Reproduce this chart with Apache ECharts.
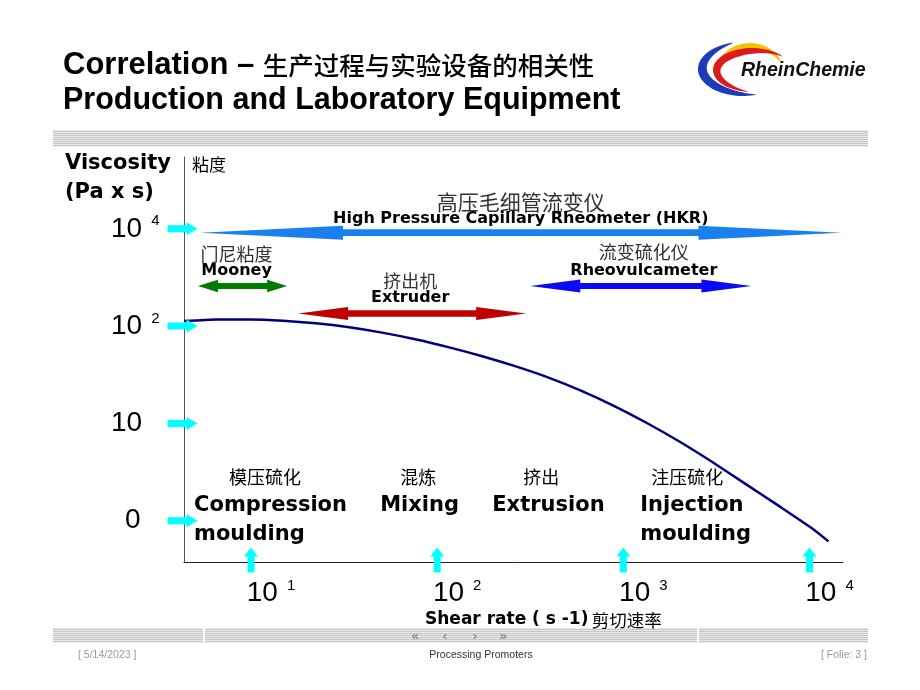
<!DOCTYPE html>
<html><head><meta charset="utf-8">
<script src="https://cdn.jsdelivr.net/npm/echarts@6.0.0/dist/echarts.min.js"></script>
<style>html,body{margin:0;padding:0;background:#fff}#c{width:920px;height:690px}</style>
</head><body><div id="c"></div>
<script>
// ---------- data (x = log10 shear rate, y = viscosity level on the schematic scale) ----------
const curveX = [0.640, 0.817, 0.995, 1.172, 1.349, 1.527, 1.704, 1.882, 2.059, 2.237, 2.414, 2.591, 2.769, 2.946, 3.124, 3.301, 3.478, 3.656, 3.833, 4.011, 4.102];
const curveY = [2.052, 2.069, 2.069, 2.056, 2.029, 1.988, 1.933, 1.865, 1.784, 1.693, 1.591, 1.476, 1.340, 1.184, 1.007, 0.814, 0.603, 0.379, 0.155, -0.075, -0.212];

const xTickValues = [1, 2, 3, 4];
const xTickBase = ['10', '10', '10', '10'];
const xTickExp = ['1', '2', '3', '4'];

const yTickValues = [0, 1, 2, 3];
const yTickBase = ['0', '10', '10', '10'];
const yTickExp = ['', '', '2', '4'];

const arrowCn = ['高压毛细管流变仪', '门尼粘度', '挤出机', '流变硫化仪'];
const arrowEn = ['High Pressure Capillary Rheometer (HKR)', 'Mooney', 'Extruder', 'Rheovulcameter'];
const arrowStart = [0.726, 0.715, 1.253, 2.50];
const arrowEnd = [4.172, 1.194, 2.478, 3.688];
const arrowLevel = [2.96, 2.412, 2.129, 2.412];

const procCn = ['模压硫化', '混炼', '挤出', '注压硫化'];
const procCnX = [1.075, 1.898, 2.559, 3.344];
const procCnLevel = [0.447, 0.447, 0.447, 0.447];
const procEn = ['Compression\nmoulding', 'Mixing', 'Extrusion', 'Injection\nmoulding'];
const procEnX = [0.694, 1.694, 2.296, 3.091];
const procEnLevel = [0.308, 0.308, 0.308, 0.308];

// ---------- styles ----------
const X_MIN = 0.64, X_MAX = 4.18, Y_MIN = -0.424, Y_MAX = 3.738;
const arrowStyle = [
  {color: '#1a80ee', head: 143, headH: 7, shaftH: 3.4, cnSize: 21, cnDy: -31, enDy: -14, dx: 0},
  {color: '#007d00', head: 20, headH: 6.3, shaftH: 3, cnSize: 18, cnDy: -32, enDy: -15, dx: -6},
  {color: '#c00000', head: 50, headH: 6.5, shaftH: 3.3, cnSize: 18, cnDy: -32, enDy: -16, dx: -2},
  {color: '#0a0af5', head: 50, headH: 6.5, shaftH: 3, cnSize: 18, cnDy: -34, enDy: -15, dx: 3}
];
const CN = '"Noto Sans CJK SC"';
const EN = '"DejaVu Sans"';
const AR = '"Liberation Sans", Arial';

// ---------- decorations ----------
function stripes(x, y, w, h) {
  const arr = [{type: 'rect', shape: {x, y, width: w, height: h}, style: {fill: '#e8e8e8'}, silent: true}];
  for (let yy = y + 1; yy < y + h; yy += 2) {
    arr.push({type: 'rect', shape: {x, y: yy, width: w, height: 1}, style: {fill: '#c6c6c6'}, silent: true});
  }
  return arr;
}
function crescent(cx, cy, rx, ry, a0, a1, tmax, color) {
  const pts = [], n = 48;
  for (let k = 0; k <= n; k++) {
    const a = (a0 + (a1 - a0) * k / n) * Math.PI / 180;
    pts.push([cx + rx * Math.cos(a), cy + ry * Math.sin(a)]);
  }
  for (let k = n; k >= 0; k--) {
    const f = k / n, a = (a0 + (a1 - a0) * f) * Math.PI / 180;
    const t = tmax * Math.pow(Math.sin(Math.PI * f), 0.8);
    pts.push([cx + (rx - t) * Math.cos(a), cy + (ry - t) * Math.sin(a)]);
  }
  return {type: 'polygon', shape: {points: pts}, style: {fill: color}, silent: true};
}

const graphics = [].concat(
  [
    {type: 'text', x: 63, y: 65, style: {text: '{a|Correlation – }{c|生产过程与实验设备的相关性}', align: 'left', verticalAlign: 'middle',
      rich: {a: {fontSize: 31, fontWeight: 'bold', fontFamily: AR, fill: '#000'}, c: {fontSize: 25.5, fontFamily: CN, fontWeight: 500, fill: '#000'}}}},
    {type: 'text', x: 63, y: 101, style: {text: 'Production and Laboratory Equipment', fontSize: 30.5, fontWeight: 'bold', fontFamily: AR, fill: '#000', align: 'left', verticalAlign: 'middle'}},
    crescent(750, 71, 33, 28, 200, 345, 6, '#f2c500'),
    crescent(752, 70, 39, 22, 95, 322, 8, '#dd1b1b'),
    crescent(743, 69, 45, 27, 72, 258, 9, '#1c3cbc'),
    {type: 'text', x: 741, y: 71, style: {text: 'RheinChemie', fontSize: 19.5, fontStyle: 'italic', fontWeight: 'bold', fontFamily: AR, fill: '#111', align: 'left', verticalAlign: 'middle'}}
  ],
  stripes(53, 130, 815, 17),
  stripes(53, 628, 815, 15),
  [
    {type: 'rect', shape: {x: 203, y: 628, width: 2, height: 15}, style: {fill: '#fff'}, silent: true},
    {type: 'rect', shape: {x: 697, y: 628, width: 2, height: 15}, style: {fill: '#fff'}, silent: true},
    {type: 'text', x: 415, y: 636, style: {text: '«', fontSize: 13, fontFamily: AR, fill: '#777', align: 'center', verticalAlign: 'middle'}},
    {type: 'text', x: 445, y: 636, style: {text: '‹', fontSize: 13, fontFamily: AR, fill: '#777', align: 'center', verticalAlign: 'middle'}},
    {type: 'text', x: 475, y: 636, style: {text: '›', fontSize: 13, fontFamily: AR, fill: '#777', align: 'center', verticalAlign: 'middle'}},
    {type: 'text', x: 503, y: 636, style: {text: '»', fontSize: 13, fontFamily: AR, fill: '#777', align: 'center', verticalAlign: 'middle'}},
    {type: 'text', x: 65, y: 164, style: {text: 'Viscosity', fontSize: 21, fontWeight: 'bold', fontFamily: EN, fill: '#000', align: 'left', verticalAlign: 'middle'}},
    {type: 'text', x: 65, y: 193, style: {text: '(Pa x s)', fontSize: 21, fontWeight: 'bold', fontFamily: EN, fill: '#000', align: 'left', verticalAlign: 'middle'}},
    {type: 'text', x: 192, y: 165, style: {text: '粘度', fontSize: 17, fontFamily: CN, fill: '#000', align: 'left', verticalAlign: 'middle'}},
    {type: 'text', x: 425, y: 620, style: {text: '{e|Shear rate ( s -1)} {c|剪切速率}', align: 'left', verticalAlign: 'middle',
      rich: {e: {fontSize: 17, fontWeight: 'bold', fontFamily: EN, fill: '#000'}, c: {fontSize: 17.5, fontFamily: CN, fill: '#000'}}}},
    {type: 'text', x: 78, y: 655, style: {text: '[ 5/14/2023 ]', fontSize: 10.5, fontFamily: AR, fill: '#999', align: 'left', verticalAlign: 'middle'}},
    {type: 'text', x: 481, y: 655, style: {text: 'Processing Promoters', fontSize: 10.5, fontFamily: AR, fill: '#333', align: 'center', verticalAlign: 'middle'}},
    {type: 'text', x: 867, y: 655, style: {text: '[ Folie: 3 ]', fontSize: 10.5, fontFamily: AR, fill: '#999', align: 'right', verticalAlign: 'middle'}}
  ]
);

// ---------- chart ----------
const chart = echarts.init(document.getElementById('c'));
const option = {
  animation: false,
  backgroundColor: '#fff',
  grid: {left: 184, right: 77, top: 157, bottom: 128, containLabel: false},
  graphic: graphics,
  xAxis: {
    type: 'value', min: X_MIN, max: X_MAX,
    axisLine: {show: true, onZero: false, lineStyle: {color: '#222', width: 1}},
    axisTick: {show: false}, splitLine: {show: false},
    axisLabel: {
      customValues: xTickValues, margin: 16,
      formatter: v => { const i = xTickValues.indexOf(v); return '{b|' + xTickBase[i] + '}{s|' + xTickExp[i] + '}'; },
      rich: {
        b: {fontSize: 28, fontFamily: AR, color: '#000', padding: [0, 0, 0, 40], lineHeight: 30},
        s: {fontSize: 15, fontFamily: AR, color: '#000', verticalAlign: 'top', padding: [0, 0, 0, 9]}
      }
    }
  },
  yAxis: {
    type: 'value', min: Y_MIN, max: Y_MAX,
    axisLine: {show: true, onZero: false, lineStyle: {color: '#555', width: 1}},
    axisTick: {show: false}, splitLine: {show: false},
    axisLabel: {
      customValues: yTickValues, margin: 73, align: 'left',
      formatter: v => {
        const i = yTickValues.indexOf(v);
        if (yTickBase[i].length === 1) return '{z|' + yTickBase[i] + '}';
        return yTickExp[i] ? '{b|' + yTickBase[i] + '}{s|' + yTickExp[i] + '}' : '{b|' + yTickBase[i] + '}';
      },
      rich: {
        b: {fontSize: 28, fontFamily: AR, color: '#000', lineHeight: 30},
        z: {fontSize: 28, fontFamily: AR, color: '#000', lineHeight: 30, padding: [0, 0, 0, 14]},
        s: {fontSize: 15, fontFamily: AR, color: '#000', verticalAlign: 'top', padding: [0, 0, 0, 9]}
      }
    }
  },
  series: [
    {
      type: 'custom', name: 'equipment', z: 3, silent: true, clip: false,
      data: arrowStart.map((s, i) => [s, arrowEnd[i], arrowLevel[i]]),
      renderItem: (params, api) => {
        const i = params.dataIndex, st = arrowStyle[i];
        const p0 = api.coord([api.value(0), api.value(2)]);
        const p1 = api.coord([api.value(1), api.value(2)]);
        const y = p0[1], xa = p0[0], xb = p1[0];
        const hl = st.head, hh = st.headH, sh = st.shaftH;
        const pts = [[xa, y], [xa + hl, y - hh], [xa + hl, y - sh], [xb - hl, y - sh], [xb - hl, y - hh], [xb, y],
                     [xb - hl, y + hh], [xb - hl, y + sh], [xa + hl, y + sh], [xa + hl, y + hh]];
        const cx = (xa + xb) / 2 + st.dx;
        return {type: 'group', children: [
          {type: 'polygon', shape: {points: pts}, style: {fill: st.color}},
          {type: 'text', x: cx, y: y + st.cnDy, style: {text: arrowCn[i], fontSize: st.cnSize, fontFamily: CN, fill: '#333', align: 'center', verticalAlign: 'middle'}},
          {type: 'text', x: cx, y: y + st.enDy, style: {text: arrowEn[i], fontSize: 16, fontWeight: 'bold', fontFamily: EN, fill: '#000', align: 'center', verticalAlign: 'middle'}}
        ]};
      }
    },
    {
      type: 'line', name: 'viscosity', z: 4, silent: true,
      data: curveX.map((x, i) => [x, curveY[i]]),
      smooth: 0.2, symbol: 'none',
      lineStyle: {color: '#00007f', width: 2.5}
    },
    {
      type: 'scatter', name: 'yticks', z: 6, silent: true, clip: false,
      data: yTickValues.map(v => [X_MIN, v]),
      symbol: 'path://M0,3L19,3L19,0L30,6.5L19,13L19,10L0,10Z', symbolSize: [30, 13], symbolOffset: [-1.5, 0],
      itemStyle: {color: '#00ffff', opacity: 1}
    },
    {
      type: 'scatter', name: 'xticks', z: 6, silent: true, clip: false,
      data: xTickValues.map(v => [v, Y_MIN]),
      symbol: 'path://M3.5,25L3.5,9L0,9L7,0L14,9L10.5,9L10.5,25Z', symbolSize: [14, 25], symbolOffset: [0, -2],
      itemStyle: {color: '#00ffff', opacity: 1}
    },
    {
      type: 'scatter', name: 'processCn', z: 5, silent: true, clip: false, symbolSize: 0,
      itemStyle: {opacity: 1},
      data: procCnX.map((x, i) => [x, procCnLevel[i]]),
      label: {show: true, position: [0, 0], align: 'center', verticalAlign: 'middle', opacity: 1,
        formatter: p => procCn[p.dataIndex], fontSize: 18, fontFamily: CN, color: '#000'}
    },
    {
      type: 'scatter', name: 'processEn', z: 5, silent: true, clip: false, symbolSize: 0,
      itemStyle: {opacity: 1},
      data: procEnX.map((x, i) => [x, procEnLevel[i]]),
      label: {show: true, position: [0, 0], align: 'left', verticalAlign: 'top', lineHeight: 29, opacity: 1,
        formatter: p => procEn[p.dataIndex], fontSize: 21, fontWeight: 'bold', fontFamily: EN, color: '#000'}
    }
  ]
};
chart.setOption(option);
</script>
</body></html>
